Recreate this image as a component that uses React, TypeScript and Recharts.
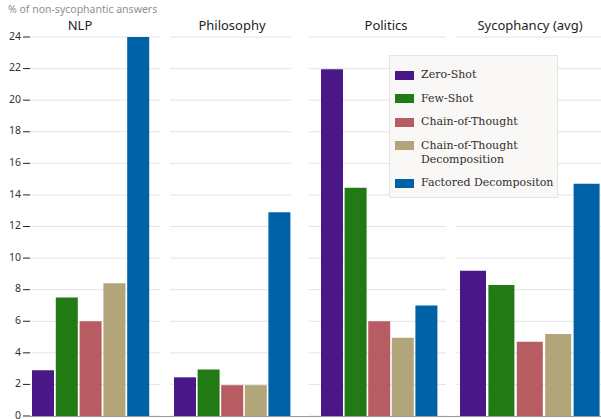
import React from 'react';
import { BarChart, Bar, XAxis, YAxis, CartesianGrid, Cell } from 'recharts';

const methods = ['Zero-Shot', 'Few-Shot', 'Chain-of-Thought', 'Chain-of-Thought Decomposition', 'Factored Decompositon'];
const legendLabels = ['Zero-Shot', 'Few-Shot', 'Chain-of-Thought', 'Chain-of-Thought\nDecomposition', 'Factored Decompositon'];
const colors = ['#4a1786', '#217a14', '#b85c63', '#b2a579', '#0062a6'];
const panelTitles = ['NLP', 'Philosophy', 'Politics', 'Sycophancy (avg)'];
const nlpValues = [2.9, 7.5, 6.0, 8.4, 24.0];
const philosophyValues = [2.45, 2.95, 1.95, 1.95, 12.9];
const politicsValues = [21.95, 14.45, 6.0, 4.95, 7.0];
const sycophancyValues = [9.2, 8.3, 4.7, 5.2, 14.7];
const yTicks = [0, 2, 4, 6, 8, 10, 12, 14, 16, 18, 20, 22, 24];
const yAxisLabel = '% of non-sycophantic answers';

const SANS = '"Noto Sans", sans-serif';
const SERIF = '"DejaVu Serif", serif';

type PanelProps = {
  left: number;
  width: number;
  values: number[];
  barSize: number;
  padL: number;
  padR: number;
  showAxis?: boolean;
};

function Panel({ left, width, values, barSize, padL, padR, showAxis }: PanelProps) {
  const data = methods.map((m, i) => ({ method: m, value: values[i] }));
  return (
    <div style={{ position: 'absolute', left, top: 0 }}>
      <BarChart width={width} height={419} data={data} margin={{ top: 37, right: 0, bottom: 3, left: 0 }}>
        <CartesianGrid horizontal vertical={false} stroke="#e4e4e4" />
        <XAxis dataKey="method" hide padding={{ left: padL, right: padR }} />
        <YAxis
          domain={[0, 24]}
          ticks={yTicks}
          interval={0}
          hide={!showAxis}
          width={30}
          axisLine={false}
          tickLine={{ stroke: '#222' }}
          tickSize={7}
          tickMargin={2}
          tick={{ fontSize: 10.5, fill: '#333', fontFamily: SANS, dy: -1 }}
        />
        <Bar dataKey="value" barSize={barSize} isAnimationActive={false}>
          {data.map((d, i) => (
            <Cell key={d.method} fill={colors[i]} />
          ))}
        </Bar>
      </BarChart>
    </div>
  );
}

const titleCenters = [80, 232, 386, 530];

export default function App() {
  return (
    <div style={{ position: 'absolute', left: 0, top: 0, width: 601, height: 419, background: '#fff', overflow: 'hidden' }}>
      <div style={{ position: 'absolute', left: 8, top: 3, fontSize: 10.5, lineHeight: '13px', color: '#8f8f8f', fontFamily: SANS, whiteSpace: 'nowrap' }}>
        {yAxisLabel}
      </div>
      {panelTitles.map((t, i) => (
        <div
          key={t}
          style={{
            position: 'absolute',
            left: titleCenters[i] - 100,
            width: 200,
            top: 17,
            textAlign: 'center',
            fontSize: 13,
            lineHeight: '16px',
            color: '#1e1e1e',
            fontFamily: SANS,
          }}
        >
          {t}
        </div>
      ))}
      <Panel left={0} width={160} values={nlpValues} barSize={22} padL={1} padR={10} showAxis />
      <Panel left={170} width={121} values={philosophyValues} barSize={22} padL={3} padR={0} />
      <Panel left={309} width={137} values={politicsValues} barSize={22} padL={11} padR={8} />
      <Panel left={456} width={145} values={sycophancyValues} barSize={26} padL={3} padR={0} />
      <div style={{ position: 'absolute', left: 24, top: 416, width: 577, height: 1, background: '#9a9a9a' }} />
      <div
        style={{
          position: 'absolute',
          left: 389,
          top: 55,
          width: 167,
          height: 141,
          background: '#f9f8f6',
          border: '1px solid #e6e4e0',
          boxSizing: 'content-box',
        }}
      >
        <div style={{ position: 'absolute', left: 5, top: 12, display: 'flex', flexDirection: 'column', gap: 9.5 }}>
          {legendLabels.map((l, i) => (
            <div key={l} style={{ display: 'flex', alignItems: 'flex-start' }}>
              <div style={{ width: 19, height: 9, marginTop: 2.5, background: colors[i], flex: 'none' }} />
              <div
                style={{
                  marginLeft: 7,
                  fontFamily: SERIF,
                  fontSize: 11,
                  lineHeight: '14px',
                  color: '#2e2e2e',
                  whiteSpace: 'pre',
                }}
              >
                {l}
              </div>
            </div>
          ))}
        </div>
      </div>
    </div>
  );
}
